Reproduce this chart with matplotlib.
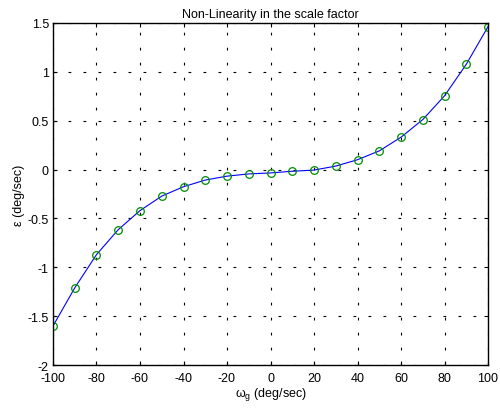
import numpy as np
import matplotlib
matplotlib.use('Agg')
import matplotlib.pyplot as plt

# datos
omega_g = [-100, -90, -80, -70, -60, -50, -40, -30, -20, -10, 0,
           10, 20, 30, 40, 50, 60, 70, 80, 90, 100]
epsilon = [-1.60, -1.21, -0.87, -0.615, -0.42, -0.272, -0.176, -0.108, -0.068, -0.045, -0.035,
           -0.018, -0.006, 0.035, 0.10, 0.19, 0.33, 0.51, 0.753, 1.075, 1.46]

xticks = list(range(-100, 101, 20))
yticks = [-2, -1.5, -1, -0.5, 0, 0.5, 1, 1.5]
ytick_labels = ['-2', '-1.5', '-1', '-0.5', '0', '0.5', '1', '1.5']

plt.rcParams['font.family'] = ['Liberation Sans', 'DejaVu Sans']
plt.rcParams['mathtext.default'] = 'regular'
plt.rcParams['axes.unicode_minus'] = False
plt.rcParams['font.size'] = 9

fig = plt.figure(figsize=(5, 4.1), dpi=100)
ax = fig.add_axes([0.106, 0.107, 0.87, 0.835])

ax.plot(omega_g, epsilon, color='blue', linewidth=0.8)
ax.plot(omega_g, epsilon, 'o', markerfacecolor='none', markeredgecolor=(0, 0.55, 0),
        markersize=5.5, markeredgewidth=0.9)

ax.set_xlim(-100, 100)
ax.set_ylim(-2, 1.5)
ax.set_xticks(xticks)
ax.set_xticklabels([str(t) for t in xticks])
ax.set_yticks(yticks)
ax.set_yticklabels(ytick_labels)
ax.tick_params(direction='in', top=True, right=True, length=3, width=0.8, labelsize=9)
ax.tick_params(axis='x', pad=5)
ax.tick_params(axis='y', pad=3)
ax.grid(True, color='black', linewidth=0.8, linestyle=(0, (2.5, 11)))
for s in ax.spines.values():
    s.set_linewidth(1.0)

ax.set_title('Non-Linearity in the scale factor', fontsize=9, pad=4)
ax.set_xlabel('ω$_g$ (deg/sec)', fontsize=9, labelpad=1)
ax.set_ylabel('ε (deg/sec)', fontsize=9, labelpad=2)

fig.savefig('out.png', dpi=100)
